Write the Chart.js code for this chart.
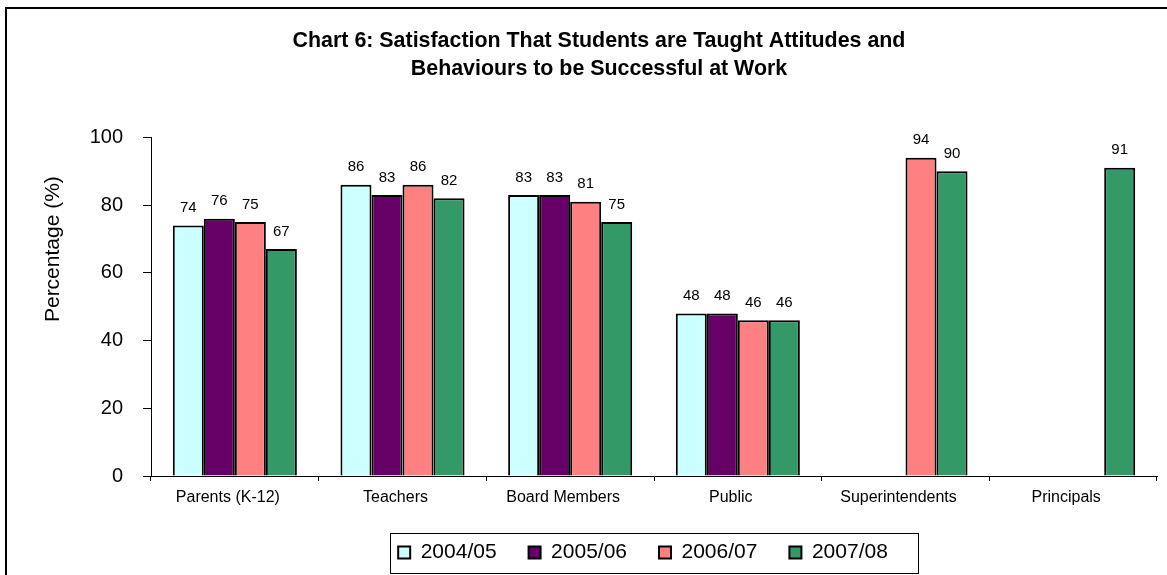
<!DOCTYPE html>
<html>
<head>
<meta charset="utf-8">
<script src="https://cdn.jsdelivr.net/npm/chart.js@4.4.1/dist/chart.umd.min.js"></script>
<style>
  html, body { margin: 0; padding: 0; background: #fff; }
  #wrap { position: relative; width: 1167px; height: 575px; }
</style>
</head>
<body>
<div id="wrap"><canvas id="chart6" width="1167" height="575"></canvas></div>
<script>
const categories = ["Parents (K-12)", "Teachers", "Board Members", "Public", "Superintendents", "Principals"]
const years = ["2004/05", "2005/06", "2006/07", "2007/08"]
const s2004 = [74, 86, 83, 48, null, null]
const s2005 = [76, 83, 83, 48, null, null]
const s2006 = [75, 86, 81, 46, 94, null]
const s2007 = [67, 82, 75, 46, 90, 91]
const yTicks = [0, 20, 40, 60, 80, 100]

const colors = ["#CCFFFF", "#660066", "#FF8080", "#339966"]
const FONT = "Arial, 'Liberation Sans', sans-serif"

// value labels over each bar
const valueLabels = {
  id: "valueLabels",
  afterDatasetsDraw(chart) {
    const ctx = chart.ctx
    ctx.save()
    ctx.font = "15px " + FONT
    ctx.fillStyle = "#000"
    ctx.textAlign = "center"
    ctx.textBaseline = "bottom"
    chart.data.datasets.forEach((ds, i) => {
      chart.getDatasetMeta(i).data.forEach((bar, j) => {
        const v = ds.data[j]
        if (v == null) return
        ctx.fillText(String(v), bar.x, bar.y - 10)
      })
    })
    ctx.restore()
  }
}

// y axis title sits a bit above the middle of the axis, like the original
const yTitle = {
  id: "yTitle",
  afterDraw(chart) {
    const ctx = chart.ctx
    const a = chart.chartArea
    ctx.save()
    ctx.translate(53, a.top + (a.bottom - a.top) * 0.33)
    ctx.rotate(-Math.PI / 2)
    ctx.font = "21px " + FONT
    ctx.fillStyle = "#000"
    ctx.textAlign = "center"
    ctx.textBaseline = "middle"
    ctx.fillText("Percentage (%)", 0, 0)
    ctx.restore()
  }
}

// frame of the chart object and the box round the legend
const frames = {
  id: "frames",
  afterLayout(chart) {
    // legend in the original sits a little left of the plot centre
    chart.legend.left -= 11
    chart.legend.right -= 11
  },
  beforeDraw(chart) {
    const ctx = chart.ctx
    ctx.save()
    ctx.strokeStyle = "#000"
    ctx.lineWidth = 2
    ctx.beginPath()
    ctx.moveTo(6, 575)
    ctx.lineTo(6, 8)
    ctx.lineTo(1167, 8)
    ctx.stroke()
    ctx.restore()
  },
  afterDraw(chart) {
    const boxes = chart.legend.legendHitBoxes
    if (!boxes || !boxes.length) return
    const first = boxes[0]
    const last = boxes[boxes.length - 1]
    const ctx = chart.ctx
    ctx.save()
    ctx.strokeStyle = "#000"
    ctx.lineWidth = 1
    const left = first.left - 8
    const right = last.left + last.width + 30
    const cy = first.top + first.height / 2
    ctx.strokeRect(Math.round(left) + 0.5, Math.round(cy - 20) + 0.5, Math.round(right - left), 40)
    ctx.restore()
  }
}

new Chart(document.getElementById("chart6"), {
  type: "bar",
  data: {
    labels: categories,
    datasets: [s2004, s2005, s2006, s2007].map((d, i) => ({
      label: years[i],
      data: d,
      backgroundColor: colors[i],
      borderColor: "#000",
      borderWidth: 2,
      categoryPercentage: 0.74,
      barPercentage: 1.0,
    })),
  },
  options: {
    responsive: false,
    animation: false,
    layout: { padding: { left: 41, right: 10, top: 0, bottom: 2 } },
    plugins: {
      title: {
        display: true,
        text: ["Chart 6: Satisfaction That Students are Taught Attitudes and", "Behaviours to be Successful at Work"],
        color: "#000",
        font: { family: FONT, size: 21.4, weight: "bold", lineHeight: 1.27 },
        padding: { top: 28, bottom: 55 },
      },
      legend: {
        display: true,
        position: "bottom",
        fullSize: false,
        labels: {
          color: "#000",
          font: { family: FONT, size: 21 },
          boxWidth: 12,
          boxHeight: 12,
          padding: 32,
        },
      },
      tooltip: { enabled: false },
    },
    scales: {
      x: {
        afterFit(scale) { scale.height = 34 },
        grid: { display: true, drawOnChartArea: false, drawTicks: true, tickLength: 5, color: "#000" },
        border: { color: "#000", width: 1 },
        ticks: { color: "#000", font: { family: FONT, size: 16 }, padding: 7, maxRotation: 0, labelOffset: -7 },
      },
      y: {
        min: 0,
        max: 100,
        afterFit(scale) { scale.width = 110 },
        afterBuildTicks(scale) { scale.ticks = yTicks.map(v => ({ value: v })) },
        grid: { display: true, drawOnChartArea: false, drawTicks: true, tickLength: 8, color: "#000" },
        border: { color: "#000", width: 1 },
        ticks: { color: "#000", font: { family: FONT, size: 20 }, padding: 20 },
        title: { display: false },
      },
    },
  },
  plugins: [valueLabels, yTitle, frames],
})
</script>
</body>
</html>
